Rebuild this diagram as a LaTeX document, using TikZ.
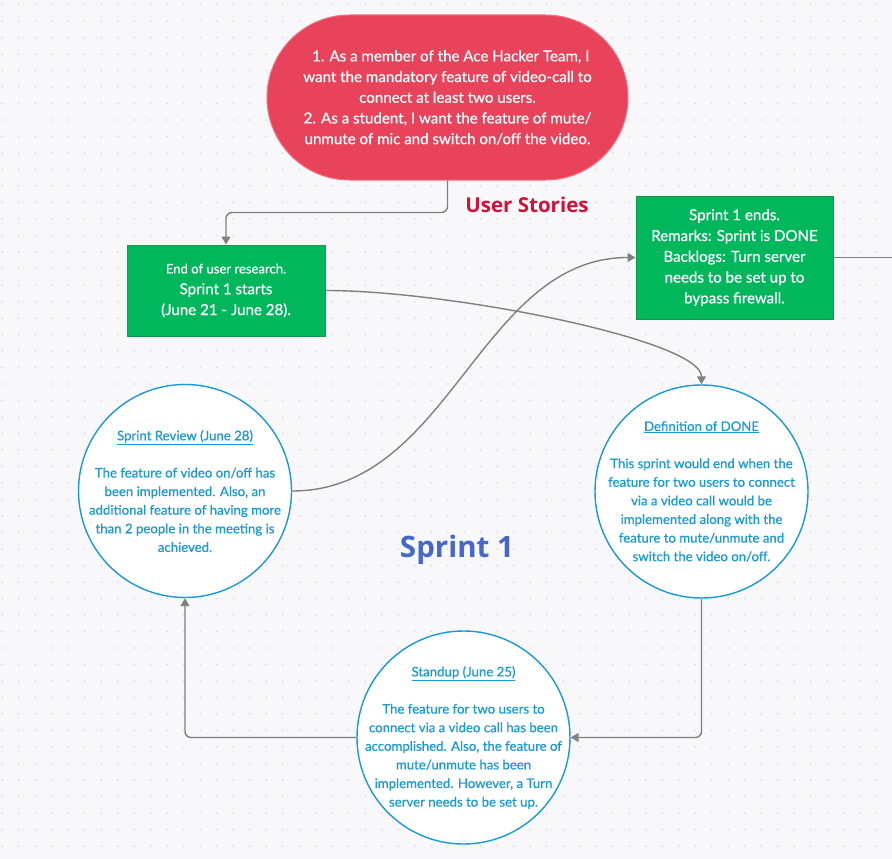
\documentclass[tikz,border=0pt]{standalone}
\usepackage{fontspec}
\setmainfont{Lato}[FakeBold=0.6]
\newfontfamily\sprintfont{Open Sans}
\newfontfamily\usfont{Open Sans}
\usetikzlibrary{shapes.misc,arrows.meta}
\definecolor{bg}{RGB}{248,248,250}
\definecolor{dotc}{RGB}{218,218,224}
\definecolor{pillfill}{RGB}{232,67,90}
\definecolor{pillborder}{RGB}{244,112,132}
\definecolor{usred}{RGB}{212,16,58}
\definecolor{gfill}{RGB}{0,183,92}
\definecolor{gborder}{RGB}{22,150,72}
\definecolor{cblue}{RGB}{24,154,214}
\definecolor{sblue}{RGB}{70,104,200}
\definecolor{conng}{RGB}{128,128,128}
\tikzset{
  pill/.style={rounded rectangle, draw=pillborder, fill=pillfill, line width=1pt,
    minimum width=361pt, minimum height=165pt, inner sep=0pt, text=white, align=center,
    font=\fontsize{15.1}{20.7}\selectfont},
  gbox/.style={rectangle, draw=gborder, fill=gfill, line width=1pt, inner sep=0pt,
    text=white, align=center, font=\fontsize{15.1}{20.8}\selectfont},
  cnode/.style={circle, draw=cblue, fill=white, line width=1.4pt, minimum size=213pt,
    inner sep=0pt},
  ctext/.style={text=cblue, align=center, inner sep=0pt, font=\fontsize{13.2}{18.6}\selectfont},
  conn/.style={draw=conng, line width=1.4pt, -{Triangle[length=8pt,width=9pt]}},
  plainline/.style={draw=conng, line width=1.4pt},
}
\begin{document}
\begin{tikzpicture}[x=1pt,y=-1pt]
\fill[bg] (0,0) rectangle (892,859);
\useasboundingbox (0,0) rectangle (892,859);
\foreach \i in {0,...,54}{
  \foreach \j in {0,...,52}{
    \fill[dotc] (2.2+\i*16.5, 4.5+\j*16.5) circle[radius=0.9pt];
  }
}
% nodes
\node[pill] (us) at (447.5,97.5) {\ \,1. As a member of the Ace Hacker Team, I\\want the mandatory feature of video-call to\\connect at least two users.\\2. As a student, I want the feature of mute/\\unmute of mic and switch on/off the video.};
\node[anchor=base, text=usred, font=\usfont\bfseries\fontsize{20.5}{25}\selectfont] (ust) at (527,212) {User Stories};
\node[gbox, minimum width=198pt, minimum height=91pt] (b1) at (226,290.5)
  {{\fontsize{13.1}{20.8}\selectfont End of user research.}\\Sprint 1 starts\\(June 21 - June 28).};
\node[gbox, minimum width=197pt, minimum height=123pt] (b2) at (734.5,257.5)
  {Sprint 1 ends.\\Remarks: Sprint is DONE\\Backlogs: Turn server\\needs to be set up to\\bypass firewall.};
\coordinate (edge) at (892,257.5);
\node[cnode] (sr) at (185,491) {};
\node[ctext] (srt) at (sr.center)
  {\underline{Sprint Review (June 28)}\\[18.6pt]The feature of video on/off has\\been implemented. Also, an\\additional feature of having more\\than 2 people in the meeting is\\achieved.};
\node[cnode] (dod) at (701.5,491.5) {};
\node[ctext] (dodt) at (dod.center)
  {\underline{Definition of DONE}\\[18.6pt]This sprint would end when the\\feature for two users to connect\\via a video call would be\\implemented along with the\\feature to mute/unmute and\\switch the video on/off.};
\node[cnode] (su) at (463.5,737.5) {};
\node[ctext] (sut) at (su.center)
  {\underline{Standup (June 25)}\\[18.6pt]The feature for two users to\\connect via a video call has been\\accomplished. Also, the feature of\\mute/unmute has been\\implemented. However, a Turn\\server needs to be set up.};
\node[anchor=base, text=sblue, font=\sprintfont\bfseries\fontsize{29.5}{36}\selectfont] (sp) at (457,557) {Sprint 1};
% connectors
\draw[conn, rounded corners=6pt] (us.south) -- ++(0,32) -| (b1.north);
\draw[conn] (b1.east) .. controls (450,290.5) and (701.5,340) .. (dod.north);
\draw[conn] (sr.east) .. controls (450,491) and (480,257.5) .. (b2.west);
\draw[plainline] (b2.east) -- (edge);
\draw[conn, rounded corners=6pt] (dod.south) |- (su.east);
\draw[conn, rounded corners=6pt] (su.west) -| (sr.south);
\end{tikzpicture}
\end{document}
